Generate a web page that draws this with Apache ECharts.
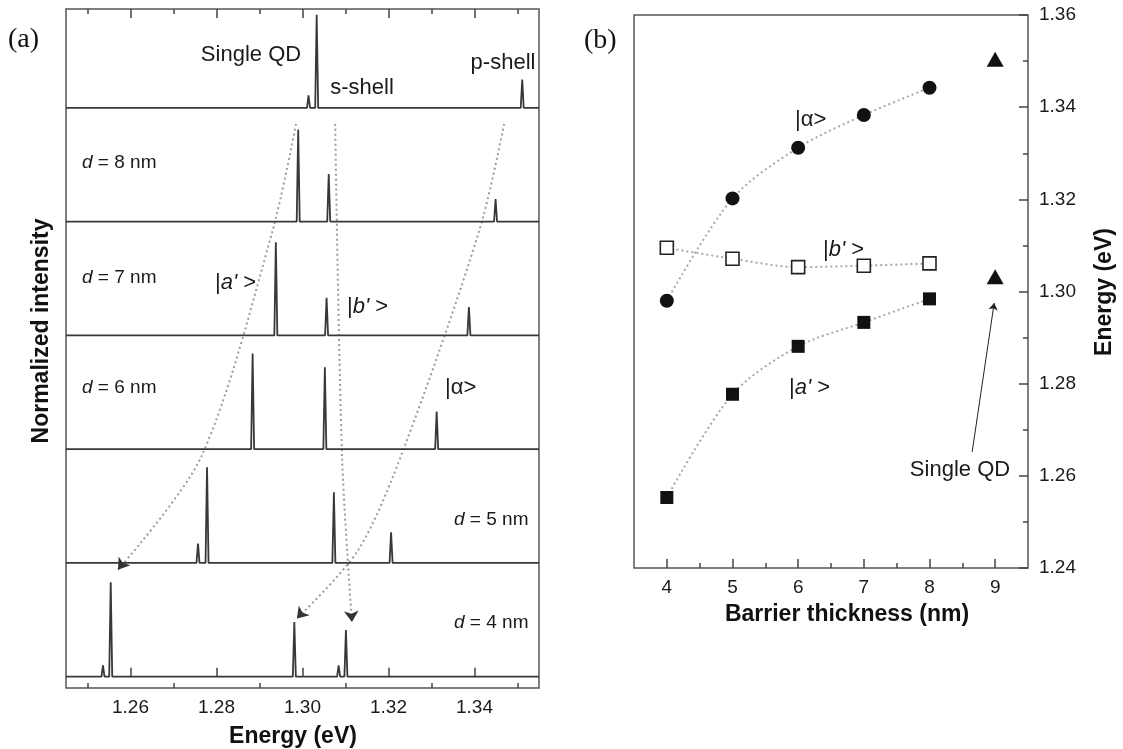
<!DOCTYPE html>
<html><head><meta charset="utf-8">
<script src="https://cdn.jsdelivr.net/npm/echarts@6/dist/echarts.min.js"></script>
<style>html,body{margin:0;padding:0;background:#fff}#c{width:1123px;height:749px}</style>
</head><body><div id="c"></div>
<script>
// ---------- Panel (a): spectra (energy eV, normalized peak height) ----------
const spectrumOffsets = [5, 4, 3, 2, 1, 0]; // Single QD, d=8, 7, 6, 5, 4 nm
const peaksSingleQD = [[1.3014, 0.11], [1.3033, 0.82], [1.3511, 0.25]];
const peaksD8 = [[1.2990, 0.81], [1.3061, 0.42], [1.3449, 0.20]];
const peaksD7 = [[1.2938, 0.82], [1.3056, 0.33], [1.3387, 0.25]];
const peaksD6 = [[1.2884, 0.84], [1.3052, 0.72], [1.3312, 0.33]];
const peaksD5 = [[1.2757, 0.17], [1.2778, 0.84], [1.3073, 0.62], [1.3206, 0.27]];
const peaksD4 = [[1.2536, 0.10], [1.2554, 0.83], [1.2981, 0.48], [1.3084, 0.10], [1.3101, 0.41]];
const energyMin = 1.245, energyMax = 1.355;
const energyTicksMajor = [1.26, 1.28, 1.30, 1.32, 1.34];
const energyTicksMinor = [1.25, 1.27, 1.29, 1.31, 1.33, 1.35];
// dotted guide paths (energy, stacked offset)
const guideAPrime = [[1.2985, 4.86], [1.2929, 3.90], [1.2764, 1.93], [1.2571, 0.94]];
const guideBPrime = [[1.3076, 4.86], [1.3092, 1.93], [1.3115, 0.48]];
const guideAlpha = [[1.3469, 4.86], [1.3411, 3.92], [1.3234, 1.99], [1.3129, 1.11], [1.2987, 0.51]];

// ---------- Panel (b): energies vs barrier thickness ----------
const thickness = [4, 5, 6, 7, 8];
const energyAlpha = [1.2980, 1.3202, 1.3312, 1.3383, 1.3442];
const energyBPrime = [1.3095, 1.3071, 1.3053, 1.3056, 1.3061];
const energyAPrime = [1.2553, 1.2777, 1.2881, 1.2933, 1.2984];
const singleQDThickness = 9;
const singleQDEnergies = [1.3504, 1.3032];
const thicknessTicksMajor = [4, 5, 6, 7, 8, 9];
const thicknessTicksMinor = [4.5, 5.5, 6.5, 7.5, 8.5];
const singleQDArrow = [[8.65, 1.2652], [8.985, 1.2975]];

// ---------- styling ----------
const F = "'Liberation Sans', Arial, sans-serif";
const FS = "'Liberation Serif', 'Times New Roman', serif";
const TXT = '#1a1a1a';
const PEAK_HALF_WIDTH = 0.00035;
const tickStyle = { color: '#444', width: 1.5 };

function spectrumData(peaks, off) {
  const pts = [[energyMin, off]];
  peaks.forEach(([e, h]) => {
    pts.push([e - PEAK_HALF_WIDTH, off], [e, off + h], [e + PEAK_HALF_WIDTH, off]);
  });
  pts.push([energyMax, off]);
  return pts;
}
const spectra = [peaksSingleQD, peaksD8, peaksD7, peaksD6, peaksD5, peaksD4];

function tickAxis(gridIndex, pos, min, max, ticks, len, labels) {
  return {
    gridIndex, type: 'value', position: pos, min, max,
    axisLine: { show: false }, splitLine: { show: false },
    axisTick: { show: true, inside: true, length: len, customValues: ticks, lineStyle: tickStyle },
    axisLabel: labels ? { show: true, customValues: ticks, margin: 10, fontSize: 19, fontFamily: F, color: TXT,
      formatter: labels } : { show: false }
  };
}

const series = [];
spectra.forEach((pk, i) => {
  series.push({
    type: 'line', xAxisIndex: 0, yAxisIndex: 0, symbol: 'none', animation: false,
    lineStyle: { color: '#383838', width: 1.8 }, data: spectrumData(pk, spectrumOffsets[i]), z: 3
  });
});
[guideAPrime, guideBPrime, guideAlpha].forEach(g => {
  series.push({
    type: 'line', xAxisIndex: 0, yAxisIndex: 0, symbol: 'none', smooth: 0.3, animation: false,
    lineStyle: { color: '#9c9c9c', width: 2, type: [2, 3] }, data: g, z: 2
  });
});
series.push({
  type: 'lines', coordinateSystem: 'cartesian2d', xAxisIndex: 0, yAxisIndex: 0, animation: false,
  symbol: ['none', 'arrow'], symbolSize: 11,
  lineStyle: { color: '#333', width: 0, opacity: 1 },
  data: [guideAPrime, guideBPrime, guideAlpha].map(g => ({ coords: [g[g.length - 2], g[g.length - 1]] })), z: 4
});

const lineDotted = { color: '#a8a8a8', width: 2, type: [2, 3] };
series.push({
  type: 'line', xAxisIndex: 4, yAxisIndex: 1, symbol: 'circle', symbolSize: 14, smooth: 0.3, animation: false,
  itemStyle: { color: '#111', opacity: 1 }, lineStyle: lineDotted,
  data: thickness.map((t, i) => [t, energyAlpha[i]])
});
series.push({
  type: 'line', xAxisIndex: 4, yAxisIndex: 1, symbol: 'rect', symbolSize: 13, smooth: 0.3, animation: false,
  itemStyle: { color: '#fff', borderColor: '#222', borderWidth: 1.6, opacity: 1 }, lineStyle: lineDotted,
  data: thickness.map((t, i) => [t, energyBPrime[i]])
});
series.push({
  type: 'line', xAxisIndex: 4, yAxisIndex: 1, symbol: 'rect', symbolSize: 13, smooth: 0.3, animation: false,
  itemStyle: { color: '#111', opacity: 1 }, lineStyle: lineDotted,
  data: thickness.map((t, i) => [t, energyAPrime[i]])
});
series.push({
  type: 'scatter', xAxisIndex: 4, yAxisIndex: 1, symbol: 'triangle', symbolSize: [17, 15], animation: false,
  itemStyle: { color: '#111', opacity: 1 },
  data: singleQDEnergies.map(e => [singleQDThickness, e])
});
series.push({
  type: 'lines', coordinateSystem: 'cartesian2d', xAxisIndex: 4, yAxisIndex: 1, animation: false,
  symbol: ['none', 'arrow'], symbolSize: 7,
  lineStyle: { color: '#222', width: 1, opacity: 1 },
  data: [{ coords: singleQDArrow }]
});

function t(x, y, text, size, align) {
  return {
    type: 'text', x, y,
    style: { text, fontSize: size, fontFamily: F, fill: TXT, align: align || 'left', verticalAlign: 'middle' }
  };
}
function rt(x, y, text, size, align) {
  const rich = {
    i: { fontStyle: 'italic', fontSize: size, fontFamily: F, fill: TXT },
    n: { fontSize: size, fontFamily: F, fill: TXT }
  };
  return { type: 'text', x, y, style: { text, rich, fontSize: size, fontFamily: F, fill: TXT, align: align || 'left', verticalAlign: 'middle' } };
}
function bold(x, y, text, rot) {
  return { type: 'text', x, y, rotation: rot || 0,
    style: { text, fontSize: 23, fontWeight: 'bold', fontFamily: F, fill: '#111', align: 'center', verticalAlign: 'middle' } };
}

const graphics = [
  { type: 'text', x: 8, y: 40, style: { text: '(a)', fontSize: 28, fontFamily: FS, fill: '#111', align: 'left', verticalAlign: 'middle' } },
  { type: 'text', x: 584, y: 41, style: { text: '(b)', fontSize: 28, fontFamily: FS, fill: '#111', align: 'left', verticalAlign: 'middle' } },
  t(251, 55, 'Single QD', 22, 'center'),
  t(362, 88, 's-shell', 22, 'center'),
  t(503, 63, 'p-shell', 22, 'center'),
  rt(82, 163, '{i|d}{n| = 8 nm}', 19),
  rt(82, 278, '{i|d}{n| = 7 nm}', 19),
  rt(82, 388, '{i|d}{n| = 6 nm}', 19),
  rt(454, 520, '{i|d}{n| = 5 nm}', 19),
  rt(454, 623, '{i|d}{n| = 4 nm}', 19),
  rt(215, 283, "{n||}{i|a'}{n| >}", 22),
  rt(347, 307, "{n||}{i|b'}{n| >}", 22),
  rt(445, 388, '{n||α>}', 22),
  rt(795, 120, '{n||α>}', 22),
  rt(823, 250, "{n||}{i|b'}{n| >}", 22),
  rt(789, 388, "{n||}{i|a'}{n| >}", 22),
  t(960, 470, 'Single QD', 22, 'center'),
  bold(42, 331, 'Normalized intensity', Math.PI / 2),
  bold(293, 737, 'Energy (eV)'),
  bold(847, 615, 'Barrier thickness (nm)'),
  bold(1105, 292, 'Energy (eV)', Math.PI / 2)
];

const option = {
  animation: false,
  backgroundColor: '#fff',
  grid: [
    { left: 66, top: 9, width: 473, height: 679, show: true, borderColor: '#555', borderWidth: 1.5, backgroundColor: 'transparent' },
    { left: 634, top: 15, width: 394, height: 553, show: true, borderColor: '#555', borderWidth: 1.5, backgroundColor: 'transparent' }
  ],
  xAxis: [
    tickAxis(0, 'bottom', energyMin, energyMax, energyTicksMajor, 9, v => v.toFixed(2)),
    tickAxis(0, 'bottom', energyMin, energyMax, energyTicksMinor, 5, null),
    tickAxis(0, 'top', energyMin, energyMax, energyTicksMajor, 9, null),
    tickAxis(0, 'top', energyMin, energyMax, energyTicksMinor, 5, null),
    tickAxis(1, 'bottom', 3.5, 9.5, thicknessTicksMajor, 9, v => String(v)),
    tickAxis(1, 'bottom', 3.5, 9.5, thicknessTicksMinor, 5, null)
  ],
  yAxis: [
    { gridIndex: 0, type: 'value', min: -0.1, max: 5.87, show: false },
    { gridIndex: 1, type: 'value', position: 'right', min: 1.24, max: 1.36, interval: 0.02,
      axisLine: { show: false }, splitLine: { show: false },
      axisTick: { show: true, inside: true, length: 9, lineStyle: tickStyle },
      minorTick: { show: true, splitNumber: 2, length: 5, lineStyle: tickStyle },
      minorSplitLine: { show: false },
      axisLabel: { margin: 11, fontSize: 19, fontFamily: F, color: TXT, formatter: v => v.toFixed(2) } }
  ],
  series,
  graphic: graphics
};
const chart = echarts.init(document.getElementById('c'), null, { renderer: 'canvas' });
chart.setOption(option);
</script></body></html>
